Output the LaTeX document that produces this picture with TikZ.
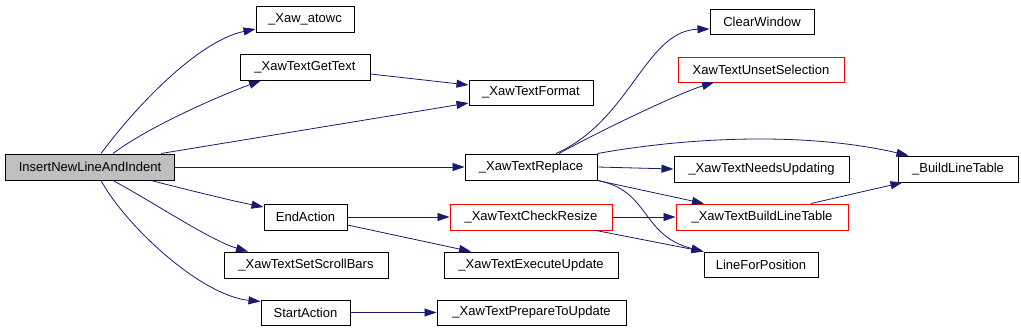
\documentclass[tikz,border=0pt]{standalone}
\usepackage{fontspec}
\setmainfont{Liberation Sans}
\usetikzlibrary{arrows.meta}
\definecolor{edgeblue}{RGB}{25,25,112}
\definecolor{rootgray}{RGB}{191,191,191}
\tikzset{
  box/.style={draw=black, line width=1pt, anchor=north west, inner sep=0pt,
    font=\fontsize{13}{15}\selectfont},
  redbox/.style={box, draw=red},
  rootbox/.style={box, fill=rootgray},
  edge/.style={draw=edgeblue, line width=0.8pt, -{Triangle[length=12pt,width=8pt]}}
}
\begin{document}
\begin{tikzpicture}[x=1pt,y=-1pt]
\useasboundingbox (-0.5,-0.5) rectangle (1020.5,326.5);
\fill[white] (-0.5,-0.5) rectangle (1020.5,326.5);
% nodes
\node[rootbox, minimum width=168pt, minimum height=26pt] (ins) at (5,153) {InsertNewLineAndIndent};
\node[box, minimum width=98pt, minimum height=26pt] (atowc) at (255,5) {\_Xaw\_atowc};
\node[box, minimum width=130pt, minimum height=26pt] (gettext) at (239,53) {\_XawTextGetText};
\node[box, minimum width=124pt, minimum height=25pt] (format) at (468,79) {\_XawTextFormat};
\node[box, minimum width=132pt, minimum height=26pt] (replace) at (464,153) {\_XawTextReplace};
\node[box, minimum width=83pt, minimum height=26pt] (endact) at (263,203) {EndAction};
\node[box, minimum width=164pt, minimum height=26pt] (scroll) at (223,251) {\_XawTextSetScrollBars};
\node[box, minimum width=89pt, minimum height=25pt] (startact) at (260,299) {StartAction};
\node[redbox, minimum width=162pt, minimum height=26pt] (check) at (449,203) {\_XawTextCheckResize};
\node[box, minimum width=174pt, minimum height=26pt] (exec) at (443,251) {\_XawTextExecuteUpdate};
\node[box, minimum width=189pt, minimum height=25pt] (prep) at (436,299) {\_XawTextPrepareToUpdate};
\node[box, minimum width=104pt, minimum height=25pt] (clear) at (709,8) {ClearWindow};
\node[redbox, minimum width=166pt, minimum height=25pt] (unset) at (677,56) {XawTextUnsetSelection};
\node[box, minimum width=175pt, minimum height=26pt] (needs) at (673,155) {\_XawTextNeedsUpdating};
\node[box, minimum width=120pt, minimum height=26pt] (blt) at (897,155) {\_BuildLineTable};
\node[redbox, minimum width=172pt, minimum height=26pt] (xblt) at (675,203) {\_XawTextBuildLineTable};
\node[box, minimum width=114pt, minimum height=25pt] (lfp) at (703,251) {LineForPosition};
% edges
\draw[edge] ([xshift=11pt]ins.north) .. controls (140,100) and (200,40) .. ([yshift=-10pt]atowc.west);
\draw[edge] ([xshift=23pt]ins.north) .. controls (150,125) and (220,95) .. ([xshift=-44pt]gettext.south);
\draw[edge] ([xshift=71pt]ins.north) -- ([yshift=-10.5pt]format.west);
\draw[edge] (ins.east) -- (replace.west);
\draw[edge] ([xshift=61pt]ins.south) .. controls (190,190) and (230,200) .. ([yshift=10pt]endact.west);
\draw[edge] ([xshift=23pt]ins.south) .. controls (150,200) and (210,240) .. ([xshift=-58pt]scroll.north);
\draw[edge] ([xshift=11pt]ins.south) .. controls (125,225) and (200,295) .. ([yshift=-2pt]startact.north west);
\draw[edge] ([yshift=-7pt]gettext.east) -- ([yshift=7.5pt]format.west);
\draw[edge] ([xshift=25pt]replace.north) .. controls (630,120) and (645,30) .. ([yshift=-7.5pt]clear.west);
\draw[edge] ([xshift=28pt]replace.north) .. controls (600,130) and (680,92) .. ([xshift=-47pt]unset.south);
\draw[edge] (replace.north east) .. controls (680,138) and (800,130) .. ([xshift=11pt]blt.north west);
\draw[edge] (replace.east) -- (needs.west);
\draw[edge] (replace.south east) -- ([xshift=-58pt]xblt.north);
\draw[edge] (replace.south east) .. controls (650,190) and (640,235) .. (lfp.north west);
\draw[edge] (endact.east) -- (check.west);
\draw[edge] ([yshift=-8pt]endact.east) -- ([xshift=-60pt]exec.north);
\draw[edge] (startact.east) -- (prep.west);
\draw[edge] (check.east) -- (xblt.west);
\draw[edge] ([xshift=65pt]check.south) -- (lfp.north west);
\draw[edge] ([xshift=49pt]xblt.north) -- ([xshift=5pt]blt.south west);
\end{tikzpicture}
\end{document}
